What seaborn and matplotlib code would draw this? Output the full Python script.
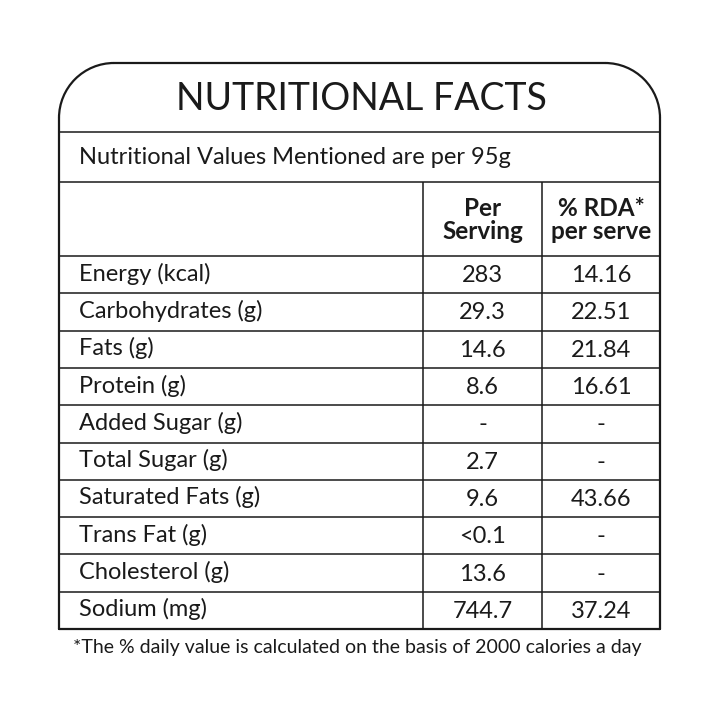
import matplotlib
matplotlib.use("Agg")
import matplotlib.pyplot as plt
from matplotlib.patches import Arc
import seaborn as sns

# --- table contents ---
title = "NUTRITIONAL FACTS"
subtitle = "Nutritional Values Mentioned are per 95g"
col_headers = ["Per\nServing", "% RDA*\nper serve"]
nutrients = ["Energy (kcal)", "Carbohydrates (g)", "Fats (g)", "Protein (g)",
             "Added Sugar (g)", "Total Sugar (g)", "Saturated Fats (g)",
             "Trans Fat (g)", "Cholesterol (g)", "Sodium (mg)"]
per_serving = ["283", "29.3", "14.6", "8.6", "-", "2.7", "9.6", "<0.1", "13.6", "744.7"]
rda = ["14.16", "22.51", "21.84", "16.61", "-", "-", "43.66", "-", "-", "37.24"]
footnote = "*The % daily value is calculated on the basis of 2000 calories a day"

sns.set_theme(style="white")
plt.rcParams['font.family'] = ['Lato', 'DejaVu Sans']

fig = plt.figure(figsize=(7.2, 7.2), dpi=100)
ax = fig.add_axes([0, 0, 1, 1])
ax.set_xlim(0, 720)
ax.set_ylim(720, 0)
ax.axis("off")

# layout (pixels)
left, right = 59, 660
top, title_line, sub_line, head_line, bottom = 63, 132, 182, 256, 629
col1, col2 = 423, 542
radius = 55
row_h = (bottom - head_line) / len(nutrients)
lw_out, lw_in = 1.6, 1.1
ink = "#1a1a1a"
body_fs = 17

# outer border with rounded top corners
ax.plot([left, left], [top + radius, bottom], color=ink, lw=lw_out)
ax.plot([right, right], [top + radius, bottom], color=ink, lw=lw_out)
ax.plot([left, right], [bottom, bottom], color=ink, lw=lw_out)
ax.plot([left + radius, right - radius], [top, top], color=ink, lw=lw_out)
ax.add_patch(Arc((left + radius, top + radius), 2 * radius, 2 * radius,
                 theta1=180, theta2=270, color=ink, lw=lw_out))
ax.add_patch(Arc((right - radius, top + radius), 2 * radius, 2 * radius,
                 theta1=270, theta2=360, color=ink, lw=lw_out))

# horizontal rules
ax.hlines([title_line, sub_line, head_line], left, right, color=ink, lw=lw_in)
for i in range(1, len(nutrients)):
    ax.hlines(head_line + i * row_h, left, right, color=ink, lw=lw_in)
# vertical rules
ax.vlines([col1, col2], sub_line, bottom, color=ink, lw=lw_in)

# texts
ax.text(361, 99, title, ha="center", va="center", fontsize=27, color=ink)
ax.text(79, 158, subtitle, ha="left", va="center", fontsize=body_fs, color=ink)

c1 = (col1 + col2) / 2
c2 = (col2 + right) / 2
ax.text(c1, 220, col_headers[0], ha="center", va="center", fontsize=17.5,
        fontweight="bold", color=ink, linespacing=1.05)
ax.text(c2, 220, col_headers[1], ha="center", va="center", fontsize=17.5,
        fontweight="bold", color=ink, linespacing=1.05)

for i, (name, ps, r) in enumerate(zip(nutrients, per_serving, rda)):
    y = head_line + (i + 0.5) * row_h
    ax.text(79, y - 1, name, ha="left", va="center", fontsize=body_fs, color=ink)
    ax.text(c1, y + 1, ps, ha="center", va="center", fontsize=body_fs, color=ink)
    ax.text(c2, y + 1, r, ha="center", va="center", fontsize=body_fs, color=ink)

ax.text(357, 648, footnote, ha="center", va="center", fontsize=14, color=ink)

fig.savefig("out.png", dpi=100, facecolor="white")
